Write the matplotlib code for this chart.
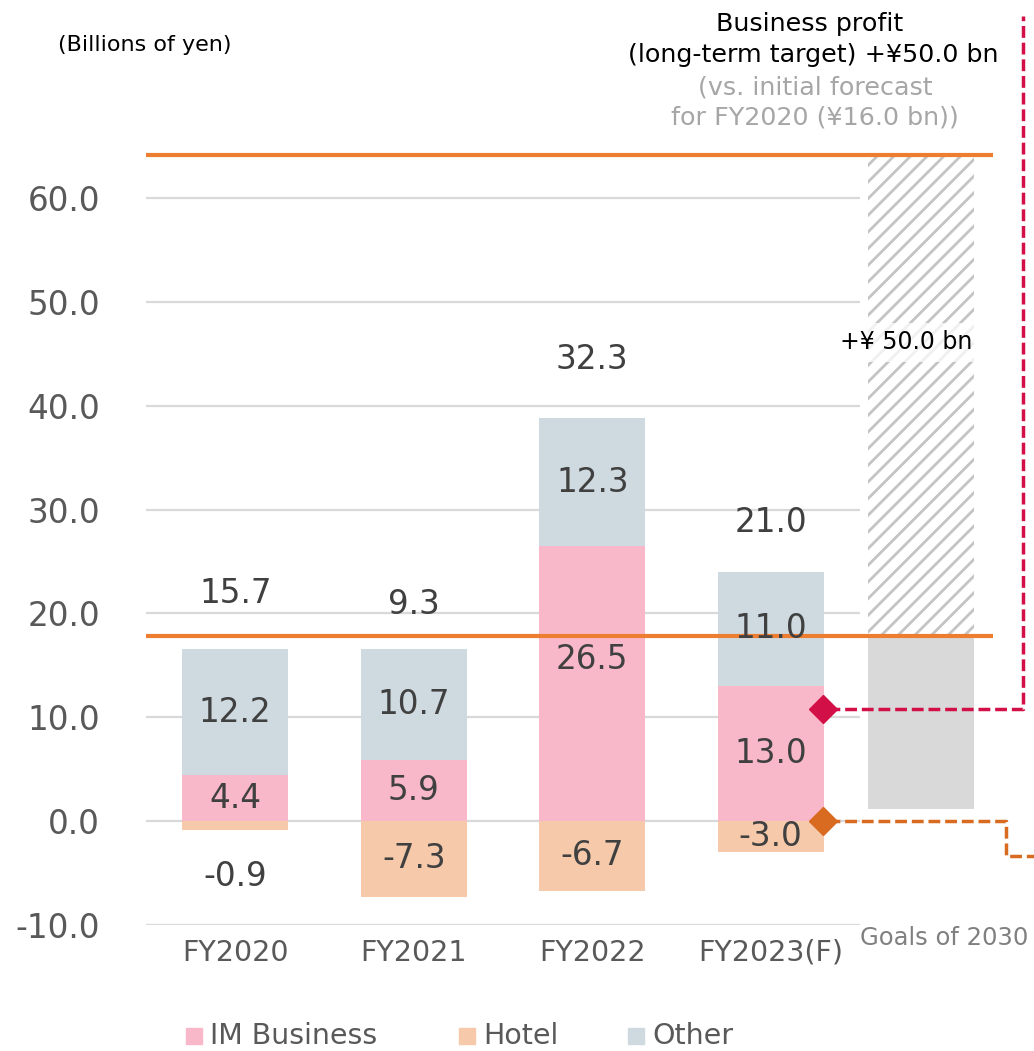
import matplotlib
matplotlib.use('Agg')
import matplotlib.pyplot as plt
from matplotlib.patches import Rectangle

# ---------------- data ----------------
categories = ['FY2020', 'FY2021', 'FY2022', 'FY2023(F)']
im_business = [4.4, 5.9, 26.5, 13.0]
hotel = [-0.9, -7.3, -6.7, -3.0]
other = [12.2, 10.7, 12.3, 11.0]
totals = [15.7, 9.3, 32.3, 21.0]
yticks = [-10, 0, 10, 20, 30, 40, 50, 60]
series_names = ['IM Business', 'Hotel', 'Other']
goal_bottom = 1.2
goal_base_top = 17.8
goal_target_top = 64.2
im_marker_value = 10.8
hotel_marker_value = 0.0

# ---------------- style ----------------
C_IM = '#F9B8CA'
C_HOTEL = '#F5C9AA'
C_OTHER = '#CFDAE0'
C_ORANGE = '#ED7D31'
C_CRIMSON = '#D20F46'
C_ODASH = '#D86B20'
C_GRID = '#D9D9D9'
C_TXT = '#404040'
C_TICK = '#595959'

plt.rcParams['font.family'] = ['DejaVu Sans']
plt.rcParams['hatch.color'] = '#C4C4C4'
plt.rcParams['hatch.linewidth'] = 2.0

W, H = 1034, 1051
fig = plt.figure(figsize=(W / 100, H / 100), dpi=100)

ymin, ymax = -10, 65
px0 = 821.0
ppu = 10.38
ax_top_px = px0 - ymax * ppu
ax_bot_px = px0 - ymin * ppu
left_px, right_px = 146, 860
ax = fig.add_axes([left_px / W, 1 - ax_bot_px / H,
                   (right_px - left_px) / W, (ax_bot_px - ax_top_px) / H])
ax.set_xlim(-0.5, 3.5)
ax.set_ylim(ymin, ymax)
for s in ax.spines.values():
    s.set_visible(False)

x = list(range(len(categories)))
bw = 0.594

# grid
for t in yticks:
    ax.axhline(t, color=C_GRID, lw=1.6, zorder=0)

ax.bar(x, im_business, width=bw, color=C_IM, zorder=2)
ax.bar(x, other, width=bw, bottom=im_business, color=C_OTHER, zorder=2)
ax.bar(x, hotel, width=bw, color=C_HOTEL, zorder=2)

# goal bar
gx = 3.84
ax.bar([gx], [goal_base_top - goal_bottom], bottom=[goal_bottom], width=bw,
       color='#D9D9D9', zorder=2, clip_on=False)
ax.bar([gx], [goal_target_top - goal_base_top], bottom=[goal_base_top], width=bw,
       facecolor='white', edgecolor='#C4C4C4', linewidth=0, hatch='//',
       zorder=2, clip_on=False)

# orange target lines
ax.plot([-0.5, 4.246], [goal_base_top, goal_base_top], color=C_ORANGE, lw=3,
        zorder=3, clip_on=False, solid_capstyle='butt')
ax.plot([-0.5, 4.246], [goal_target_top, goal_target_top], color=C_ORANGE, lw=3,
        zorder=3, clip_on=False, solid_capstyle='butt')

# labels inside bars
fs_val = 23.5
im_nudge = [0, 0, 2.3, 0]
for i in x:
    ax.text(i, im_business[i] / 2 + im_nudge[i], f'{im_business[i]:.1f}', ha='center',
            va='center', fontsize=fs_val, color=C_TXT, zorder=5)
    ax.text(i, im_business[i] + other[i] / 2, f'{other[i]:.1f}', ha='center', va='center',
            fontsize=fs_val, color=C_TXT, zorder=5)
    hy = hotel[i] / 2 if hotel[i] < -2 else hotel[i] - 4.4
    ax.text(i, hy, f'{hotel[i]:.1f}', ha='center', va='center',
            fontsize=fs_val, color=C_TXT, zorder=5)

label_offsets = [5.3, 4.3, 5.7, 4.8]
for i in x:
    top = im_business[i] + other[i]
    ax.text(i, top + label_offsets[i], f'{totals[i]:.1f}', ha='center', va='center',
            fontsize=fs_val, color=C_TXT, zorder=5)

ax.text(gx - 0.08, 46.1, '+¥ 50.0 bn', ha='center', va='center', fontsize=17,
        color='black', zorder=6, clip_on=False,
        bbox=dict(boxstyle='square,pad=0.3', facecolor='white', edgecolor='none', alpha=0.75))

# dashed connectors
ax.plot([3.32, 4.414, 4.414], [im_marker_value, im_marker_value, 77.6],
        color=C_CRIMSON, lw=2.5, ls=(0, (3.4, 1.4)), zorder=4, clip_on=False)
ax.plot([3.32, 4.32, 4.32, 4.6], [hotel_marker_value, hotel_marker_value, -3.4, -3.4],
        color=C_ODASH, lw=2.5, ls=(0, (3.4, 1.4)), zorder=4, clip_on=False)
ax.plot([3.29], [im_marker_value], marker='D', ms=14.5, color=C_CRIMSON,
        zorder=6, clip_on=False, ls='none')
ax.plot([3.29], [hotel_marker_value], marker='D', ms=14.5, color=C_ODASH,
        zorder=6, clip_on=False, ls='none')

# ticks
ax.set_yticks(yticks)
ax.set_yticklabels([f'{t:.1f}' for t in yticks], fontsize=23.5, color=C_TICK)
ax.set_xticks(x)
ax.set_xticklabels(categories, fontsize=20.5, color=C_TICK)
ax.tick_params(axis='y', length=0, pad=33)
ax.tick_params(axis='x', length=0, pad=10)

ax.text(3.97, -11.3, 'Goals of 2030', ha='center', va='center', fontsize=17.5,
        color='#808080', clip_on=False)

# header texts
fig.text(145 / W, 1 - 45 / H, '(Billions of yen)', ha='center', va='center',
         fontsize=16, color='black')
fig.text(810 / W, 1 - 24 / H, 'Business profit', ha='center', va='center',
         fontsize=18.3, color='black')
fig.text(813 / W, 1 - 55 / H, '(long-term target) +¥50.0 bn', ha='center', va='center',
         fontsize=18.3, color='black')
fig.text(815 / W, 1 - 87 / H, '(vs. initial forecast', ha='center', va='center',
         fontsize=18.3, color='#A6A6A6')
fig.text(815 / W, 1 - 117 / H, 'for FY2020 (¥16.0 bn))', ha='center', va='center',
         fontsize=18.3, color='#A6A6A6')

# legend (manual, placed in figure pixels)
leg_sq_px = [186, 459, 628]
leg_y_px = 1036
sq = 16
for name, c, sx in zip(series_names, (C_IM, C_HOTEL, C_OTHER), leg_sq_px):
    fig.patches.append(Rectangle((sx / W, 1 - (leg_y_px + sq / 2) / H), sq / W, sq / H,
                                 transform=fig.transFigure, color=c, figure=fig))
    fig.text((sx + sq + 8) / W, 1 - leg_y_px / H, name, ha='left', va='center',
             fontsize=20.5, color=C_TICK)

fig.savefig('out.png', dpi=100)
